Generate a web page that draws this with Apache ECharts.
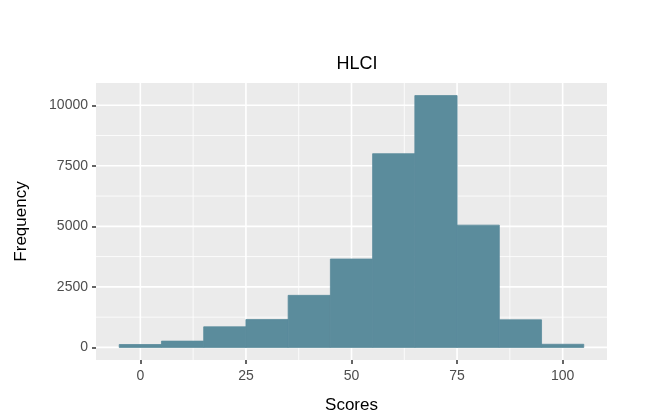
<!DOCTYPE html>
<html><head><meta charset="utf-8">
<script src="https://cdn.jsdelivr.net/npm/echarts@6/dist/echarts.min.js"></script>
<style>html,body{margin:0;padding:0;background:#fff}#c{width:648px;height:420px}</style>
</head><body><div id="c"></div>
<script>
const binStarts = [-5, 5, 15, 25, 35, 45, 55, 65, 75, 85, 95];
const binWidth = 10;
const counts = [120, 260, 850, 1150, 2150, 3650, 8000, 10400, 5050, 1140, 130];
const xTicks = [0, 25, 50, 75, 100];
const xMinor = [12.5, 37.5, 62.5, 87.5];
const yTicks = [0, 2500, 5000, 7500, 10000];
const yMinor = [1250, 3750, 6250, 8750];

const font = 'Liberation Sans, Arial, sans-serif';
const chart = echarts.init(document.getElementById('c'), null, {renderer: 'canvas'});

function vLines(w) {
  return function (params, api) {
    const cs = params.coordSys;
    const p = api.coord([api.value(0), 0]);
    return {type: 'line', shape: {x1: p[0], y1: cs.y, x2: p[0], y2: cs.y + cs.height},
      style: {stroke: '#ffffff', lineWidth: w}, silent: true};
  };
}
function hLines(w) {
  return function (params, api) {
    const cs = params.coordSys;
    const p = api.coord([0, api.value(0)]);
    return {type: 'line', shape: {x1: cs.x, y1: p[1], x2: cs.x + cs.width, y2: p[1]},
      style: {stroke: '#ffffff', lineWidth: w}, silent: true};
  };
}

const bars = binStarts.map((s, i) => [s, s + binWidth, counts[i]]);

chart.setOption({
  animation: false,
  title: {text: 'HLCI', left: 352, top: 50, textAlign: 'center',
    textStyle: {fontFamily: font, fontSize: 18, fontWeight: 'normal', color: '#000'}},
  grid: {left: 96, right: 41, top: 83, bottom: 60, show: true, backgroundColor: '#EBEBEB', borderWidth: 0},
  xAxis: {type: 'value', min: -10.5, max: 110.5,
    name: 'Scores', nameLocation: 'middle', nameGap: 37,
    nameTextStyle: {fontFamily: font, fontSize: 17, color: '#000'},
    axisLine: {show: false, onZero: false},
    axisTick: {show: true, customValues: xTicks, length: 4, lineStyle: {color: '#333', width: 1.5}},
    axisLabel: {customValues: xTicks, fontFamily: font, fontSize: 14, color: '#4D4D4D', margin: 9,
      formatter: v => String(v)},
    splitLine: {show: false}},
  yAxis: {type: 'value', min: -520, max: 10920,
    name: 'Frequency', nameLocation: 'middle', nameGap: 66, nameRotate: 90,
    nameTextStyle: {fontFamily: font, fontSize: 17, color: '#000'},
    axisLine: {show: false, onZero: false},
    axisTick: {show: true, customValues: yTicks, length: 4, lineStyle: {color: '#333', width: 1.5}},
    axisLabel: {customValues: yTicks, fontFamily: font, fontSize: 14, color: '#4D4D4D', margin: 8,
      formatter: v => String(v)},
    splitLine: {show: false}},
  series: [
    {type: 'custom', renderItem: vLines(0.8), data: xMinor.map(v => [v]), z: 1, silent: true},
    {type: 'custom', renderItem: hLines(0.8), data: yMinor.map(v => [v]), z: 1, silent: true},
    {type: 'custom', renderItem: vLines(1.6), data: xTicks.map(v => [v]), z: 1, silent: true},
    {type: 'custom', renderItem: hLines(1.6), data: yTicks.map(v => [v]), z: 1, silent: true},
    {type: 'custom', z: 2, data: bars,
      renderItem: function (params, api) {
        const a = api.coord([api.value(0), api.value(2)]);
        const b = api.coord([api.value(1), 0]);
        return {type: 'rect', shape: {x: a[0], y: a[1], width: b[0] - a[0], height: b[1] - a[1]},
          style: {fill: '#5B8C9C', stroke: '#5B8C9C', lineWidth: 0.8}};
      }}
  ]
});
</script></body></html>
